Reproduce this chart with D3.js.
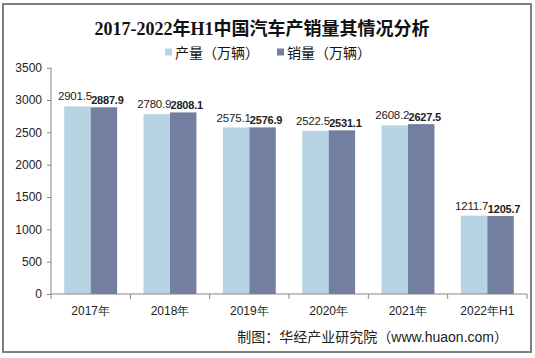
<!DOCTYPE html>
<html><head><meta charset="utf-8">
<script src="https://cdn.jsdelivr.net/npm/d3@7"></script>
<style>
body{margin:0;background:#fff;}
svg{display:block;font-family:"Liberation Sans","Noto Sans CJK SC",sans-serif;}
</style></head>
<body><svg id="c" width="535" height="358"></svg>
<script>
const categories = ["2017年","2018年","2019年","2020年","2021年","2022年H1"];
const production = [2901.5, 2780.9, 2575.1, 2522.5, 2608.2, 1211.7];
const sales = [2887.9, 2808.1, 2576.9, 2531.1, 2627.5, 1205.7];
const seriesNames = ["产量（万辆）","销量（万辆）"];
const yTicks = [0,500,1000,1500,2000,2500,3000,3500];
const colors = ["#b8d3e3","#727fa0"];

const svg = d3.select("#c");
svg.append("rect").attr("x",3).attr("y",4).attr("width",528).attr("height",348)
  .attr("fill","#fff").attr("stroke","#7f7f7f").attr("stroke-width",2);

svg.append("text").attr("x",262).attr("y",35).attr("text-anchor","middle")
  .attr("font-family","'Liberation Serif','Noto Sans CJK SC',serif")
  .attr("font-size",18).attr("font-weight","bold").attr("fill","#111")
  .text("2017-2022年H1中国汽车产销量其情况分析");

const x = d3.scaleBand().domain(categories).range([51,527]);
const x1 = d3.scaleBand().domain([0,1]).range([0,x.bandwidth()]).paddingOuter(0.5).paddingInner(0);
const y = d3.scaleLinear().domain([0,3500]).range([294,67.7]);

// y axis
const ya = svg.append("g").attr("transform","translate(51,0)")
  .call(d3.axisLeft(y).tickValues(yTicks).tickFormat(d3.format("d")).tickSize(4).tickPadding(5));
ya.select(".domain").attr("stroke","#868686").attr("d","M0,67.7V294");
ya.selectAll(".tick line").attr("stroke","#868686");
ya.selectAll("text").attr("font-size",12).attr("fill","#222").attr("font-family","'Liberation Sans',sans-serif");

// bars
const data = categories.map((c,i)=>({c, v:[production[i],sales[i]]}));
const g = svg.append("g");
data.forEach(d=>{
  d.v.forEach((v,k)=>{
    g.append("rect").attr("x",x(d.c)+x1(k)).attr("y",y(v))
      .attr("width",x1.bandwidth()).attr("height",y(0)-y(v)).attr("fill",colors[k]);
  });
  d.v.forEach((v,k)=>{
    g.append("text").attr("x",x(d.c)+x1(k)+x1.bandwidth()/2+(k?3.5:-2.5))
      .attr("y",y(v)-(k?3:6)).attr("text-anchor","middle")
      .attr("font-size",k?11:11.5).attr("fill","#222").attr("font-weight",k?"bold":"normal")
      .attr("letter-spacing",-0.2)
      .text(v.toFixed(1));
  });
});

// x axis
const xa = svg.append("g").attr("transform","translate(0,294)")
  .call(d3.axisBottom(x).tickSize(0).tickPadding(12));
xa.select(".domain").attr("stroke","#868686").attr("d","M51,0H527");
xa.selectAll("text").attr("font-size",12).attr("fill","#222");
const bounds = [51].concat(categories.map(c=>x(c)+x.bandwidth()));
xa.selectAll(".sep").data(bounds).enter().append("line").attr("class","sep")
  .attr("x1",d=>d).attr("x2",d=>d).attr("y1",0).attr("y2",5).attr("stroke","#868686");

// legend
const lg = svg.append("g");
const lx = [165,277];
seriesNames.forEach((n,k)=>{
  lg.append("rect").attr("x",lx[k]).attr("y",48.5).attr("width",7).attr("height",7).attr("fill",colors[k]);
  lg.append("text").attr("x",lx[k]+10).attr("y",57.5).attr("font-size",14)
    .attr("font-family","'Noto Sans CJK SC',sans-serif").attr("fill","#111").text(n);
});

// footer
svg.append("text").attr("x",508).attr("y",342).attr("text-anchor","end")
  .attr("font-size",14).attr("fill","#222")
  .attr("font-family","'Liberation Sans','Noto Sans CJK SC',sans-serif")
  .text("制图：华经产业研究院（www.huaon.com）");
</script></body></html>
